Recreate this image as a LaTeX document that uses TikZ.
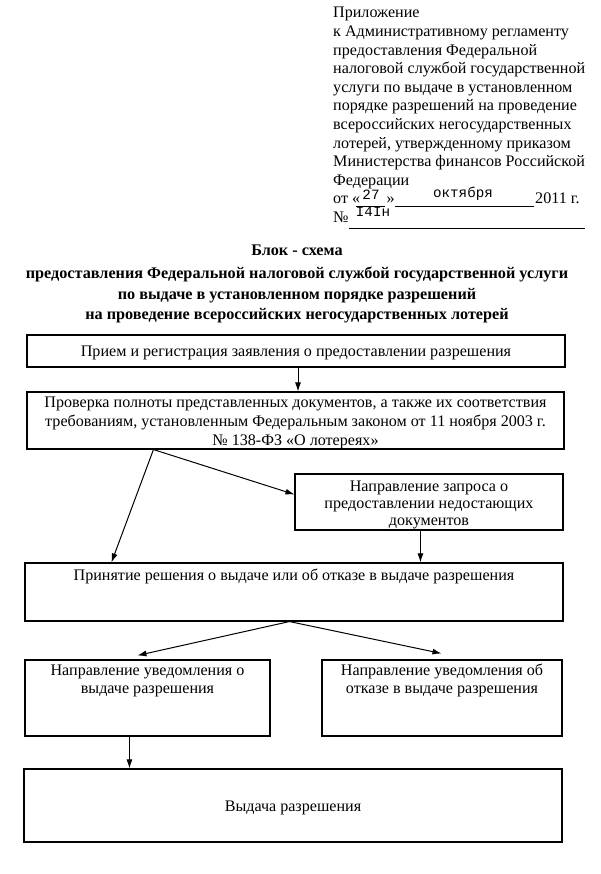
\documentclass[tikz,border=0pt]{standalone}
\usepackage{fontspec}
\setmainfont{Liberation Serif}
\newfontfamily\twfont{Liberation Mono}
\usetikzlibrary{arrows.meta,calc}
\begin{document}
\begin{tikzpicture}[x=1pt,y=-1pt,
  hdr/.style={font=\fontsize{16.1}{18.6}\selectfont, inner sep=0pt},
  ttl/.style={font=\fontsize{16.2}{20}\selectfont\bfseries, inner sep=0pt, anchor=base},
  tw/.style={font=\twfont\fontsize{14.2}{15}\selectfont, inner sep=0pt},
  box/.style={draw, line width=1.1pt, inner sep=0pt},
  btxt/.style={inner sep=0pt, align=center, anchor=base},
  arr/.style={-{Latex[length=9pt,width=6pt]}, line width=1pt},
  uline/.style={line width=0.8pt}]
\useasboundingbox (0,0) rectangle (600,874);
\fill[white] (0,0) rectangle (600,874);

% header block
\foreach \t [count=\i] in {Приложение, к Административному регламенту,
  предоставления Федеральной, налоговой службой государственной,
  услуги по выдаче в установленном, порядке разрешений на проведение,
  всероссийских негосударственных, {лотерей, утвержденному приказом},
  Министерства финансов Российской, Федерации}
  \node[hdr, anchor=base west] (h\i) at (333,{18+18.6*(\i-1)}) {\t};

\node[hdr, anchor=base west] (d1) at (333,204) {от «};
\draw[uline] (356,206) -- (385,206);
\node[tw] (d27) at (371,195) {27};
\node[hdr, anchor=base west] (d2) at (386.5,204) {»};
\draw[uline] (395,206) -- (534,206);
\node[tw] (dmon) at (463,194) {октября};
\node[hdr, anchor=base west] (d3) at (535,204) {2011 г.};
\node[hdr, anchor=base west] (n1) at (333,222.6) {№};
\draw[uline] (349,228) -- (585,228);
\node[tw] (nnum) at (373,212) {I4Iн};

% title
\node[ttl] (T1) at (297,255) {Блок - схема};
\node[ttl] (T2) at (297,278.5) {предоставления Федеральной налоговой службой государственной услуги};
\node[ttl] (T3) at (297,299.5) {по выдаче в установленном порядке разрешений};
\node[ttl] (T4) at (297,319.5) {на проведение всероссийских негосударственных лотерей};

% boxes
\node[box, minimum width=538pt, minimum height=32pt] (b1) at (296,351) {};
\node[box, minimum width=537pt, minimum height=57pt] (b2) at (295.5,420.5) {};
\node[box, minimum width=268pt, minimum height=56pt] (b3) at (429,502) {};
\node[box, minimum width=538pt, minimum height=58pt] (b4) at (294,592) {};
\node[box, minimum width=245pt, minimum height=76pt] (b5) at (147.5,698) {};
\node[box, minimum width=240pt, minimum height=76pt] (b6) at (442,698) {};
\node[box, minimum width=538pt, minimum height=73pt] (b7) at (293,805.5) {};

% box texts (base = baseline of last line)
\node[btxt, font=\fontsize{16.1}{19}\selectfont] (t1) at (296,356)
  {Прием и регистрация заявления о предоставлении разрешения};
\node[btxt, font=\fontsize{16.1}{19}\selectfont] (t2) at (295.5,445.5)
  {Проверка полноты представленных документов, а также их соответствия\\
   требованиям, установленным Федеральным законом от 11 ноября 2003 г.\\
   № 138-ФЗ «О лотереях»};
\node[btxt, font=\fontsize{16.1}{17}\selectfont] (t3) at (429,525)
  {Направление запроса о\\ предоставлении недостающих\\ документов};
\node[btxt, font=\fontsize{16.1}{18}\selectfont] (t4) at (294,580.5)
  {Принятие решения о выдаче или об отказе в выдаче разрешения};
\node[btxt, font=\fontsize{16.1}{18}\selectfont] (t5) at (147.5,693)
  {Направление уведомления о\\ выдаче разрешения};
\node[btxt, font=\fontsize{16.1}{18}\selectfont] (t6) at (442,693)
  {Направление уведомления об\\ отказе в выдаче разрешения};
\node[btxt, font=\fontsize{16.1}{18}\selectfont] (t7) at (293,811.5)
  {Выдача разрешения};

% connectors
\coordinate (f2) at ($(b2.south west)+(127,0)$);
\coordinate (f4) at ($(b4.south west)+(265,0)$);
\draw[arr] ($(b1.south)+(2,0)$) -- ($(b2.north)+(2.5,0)$);
\draw[arr] (f2) -- ($(b4.north west)+(87,0)$);
\draw[arr] (f2) -- ($(b3.north west)+(0,21)$);
\draw[arr] ($(b3.south west)+(126,0)$) -- ($(b4.north west)+(396,0)$);
\draw[arr] (f4) -- ($(b5.north west)+(113,-4)$);
\draw[arr] (f4) -- ($(b6.north west)+(120,-6)$);
\draw[arr] ($(b5.south west)+(105,0)$) -- ($(b7.north west)+(106,0)$);
\end{tikzpicture}
\end{document}
